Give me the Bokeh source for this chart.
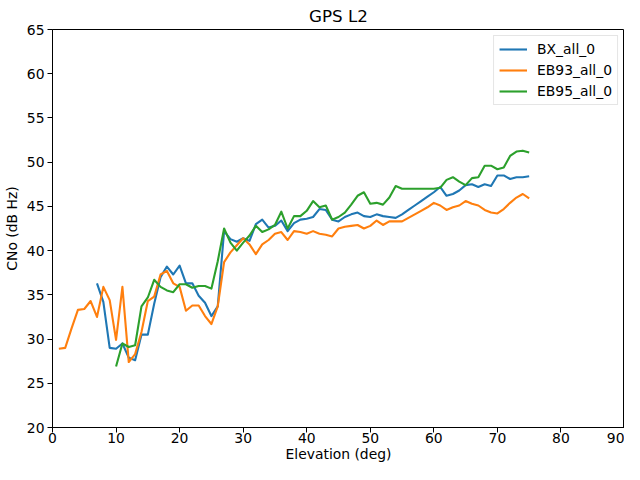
from bokeh.plotting import figure
from bokeh.models import Range1d, FixedTicker, Legend, LegendItem
from bokeh.embed import file_html
from bokeh.resources import INLINE

# ---- data ----
elev_bx = list(range(7, 76))
cno_bx = [36.3, 34.2, 29.0, 28.9, 29.5, 27.9, 27.6, 30.5, 30.5, 34.0,
          37.0, 38.2, 37.3, 38.3, 36.3, 36.3, 34.9, 34.1, 32.6, 33.7,
          42.2, 41.3, 41.0, 41.4, 41.1, 43.0, 43.5, 42.6, 42.8, 43.4,
          42.2, 43.1, 43.5, 43.6, 43.8, 44.7, 44.6, 43.5, 43.3, 43.8,
          44.1, 44.3, 43.9, 43.8, 44.1, 43.9, 43.8, 43.7, 44.1, 44.6,
          45.1, 45.6, 46.1, 46.6, 47.2, 46.2, 46.4, 46.8, 47.4, 47.5,
          47.2, 47.5, 47.3, 48.5, 48.5, 48.1, 48.3, 48.3, 48.4]

elev_eb93 = list(range(1, 76))
cno_eb93 = [28.9, 29.0, 31.2, 33.3, 33.4, 34.3, 32.5, 35.9, 34.4, 29.9,
            35.9, 27.4, 28.3, 30.8, 34.3, 34.8, 37.3, 37.7, 36.3, 35.9,
            33.2, 33.8, 33.8, 32.6, 31.7, 33.7, 38.7, 39.8, 40.6, 41.4,
            40.7, 39.6, 40.7, 41.2, 41.9, 42.1, 41.2, 42.2, 42.1, 41.9,
            42.2, 41.9, 41.8, 41.6, 42.5, 42.7, 42.8, 42.9, 42.5, 42.8,
            43.4, 42.9, 43.3, 43.3, 43.3, 43.7, 44.1, 44.5, 44.9, 45.4,
            45.1, 44.6, 44.9, 45.1, 45.6, 45.3, 45.1, 44.6, 44.3, 44.2,
            44.7, 45.4, 46.0, 46.4, 45.9]

elev_eb95 = list(range(10, 76))
cno_eb95 = [26.9, 29.5, 29.1, 29.3, 33.7, 34.7, 36.7, 35.9, 35.5, 35.3,
            36.2, 36.2, 35.8, 36.0, 36.0, 35.7, 38.8, 42.5, 40.9, 40.0,
            40.9, 41.7, 42.8, 42.1, 42.4, 42.9, 44.4, 42.5, 43.9, 43.9,
            44.5, 45.6, 44.9, 45.1, 43.5, 43.8, 44.3, 45.2, 46.2, 46.6,
            45.3, 45.4, 45.2, 46.0, 47.3, 47.0, 47.0, 47.0, 47.0, 47.0,
            47.0, 47.1, 48.0, 48.3, 47.8, 47.4, 48.2, 48.3, 49.6, 49.6,
            49.2, 49.4, 50.7, 51.2, 51.3, 51.1]

series_names = ["BX_all_0", "EB93_all_0", "EB95_all_0"]
series_colors = ["#1f77b4", "#ff7f0e", "#2ca02c"]
x_ticks = [0, 10, 20, 30, 40, 50, 60, 70, 80, 90]
y_ticks = [20, 25, 30, 35, 40, 45, 50, 55, 60, 65]

FONT = "DejaVu Sans"

p = figure(width=624, height=464, output_backend="svg", toolbar_location=None,
           x_range=Range1d(0, 90), y_range=Range1d(20, 65),
           title="GPS L2",
           min_border_left=10, min_border_right=0, min_border_top=0, min_border_bottom=0)

p.title.align = "center"
p.title.text_font = FONT
p.title.text_font_size = "16.7px"
p.title.text_font_style = "normal"
p.title.text_color = "black"
p.title.standoff = 7

p.xgrid.visible = False
p.ygrid.visible = False
p.outline_line_color = "black"
p.outline_line_alpha = 1.0
p.outline_line_width = 1

p.xaxis.ticker = FixedTicker(ticks=x_ticks)
p.yaxis.ticker = FixedTicker(ticks=y_ticks)
p.xaxis.axis_label = "Elevation (deg)"
p.yaxis.axis_label = "CNo (dB Hz)"
for ax in (p.xaxis[0], p.yaxis[0]):
    ax.axis_label_text_font = FONT
    ax.axis_label_text_font_size = "13.9px"
    ax.axis_label_text_font_style = "normal"
    ax.axis_label_text_color = "black"
    ax.major_label_text_font = FONT
    ax.major_label_text_font_size = "13.9px"
    ax.major_label_text_color = "black"
    ax.major_tick_out = 5
    ax.major_tick_in = 0
    ax.minor_tick_out = 0
    ax.minor_tick_in = 0
    ax.axis_line_color = "black"
    ax.major_tick_line_color = "black"
    ax.major_label_standoff = 3
    ax.axis_label_standoff = 4
p.xaxis[0].major_label_standoff = 0
p.xaxis[0].axis_label_standoff = 0

renderers = []
for xs, ys, c in [(elev_bx, cno_bx, series_colors[0]),
                  (elev_eb93, cno_eb93, series_colors[1]),
                  (elev_eb95, cno_eb95, series_colors[2])]:
    r = p.line(xs, ys, line_color=c, line_width=2.1, line_join="round")
    renderers.append(r)

legend = Legend(items=[LegendItem(label=n, renderers=[r]) for n, r in zip(series_names, renderers)],
                location="top_right")
legend.label_text_font = FONT
legend.label_text_font_size = "13.9px"
legend.label_text_color = "black"
legend.border_line_color = "#cccccc"
legend.border_line_width = 1
legend.background_fill_alpha = 0.8
legend.glyph_width = 28
legend.glyph_height = 14
legend.label_standoff = 10
legend.spacing = 5
legend.padding = 5
legend.margin = 6
legend.label_height = 16
p.add_layout(legend)

open("out.html", "w").write(file_html(p, INLINE))
